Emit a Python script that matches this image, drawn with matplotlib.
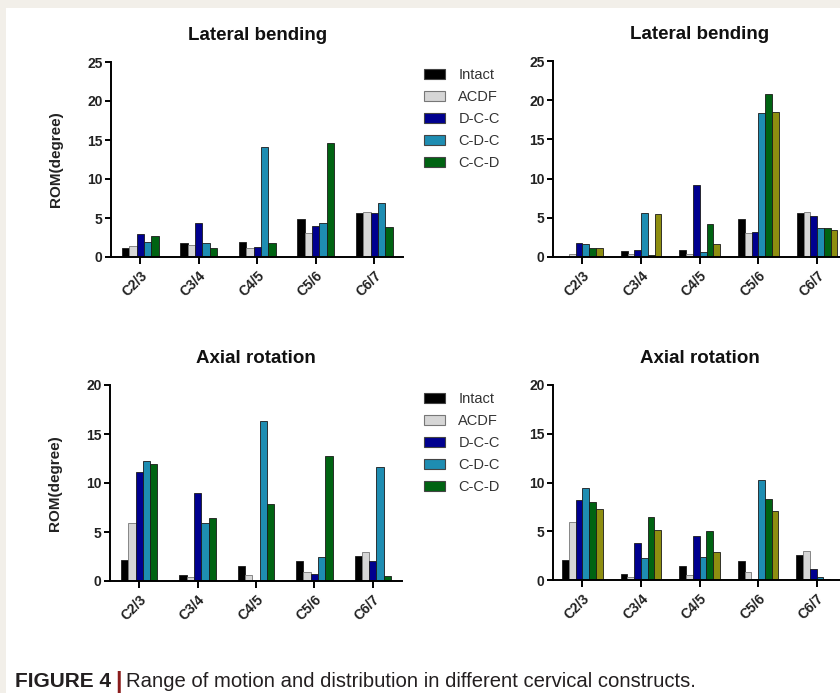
import numpy as np
import matplotlib
matplotlib.use('Agg')
import matplotlib.pyplot as plt
from matplotlib.patches import Patch, Rectangle

plt.rcParams['font.family'] = ['Liberation Sans', 'DejaVu Sans']

# data
levels = ['C2/3', 'C3/4', 'C4/5', 'C5/6', 'C6/7']
names = ['Intact', 'ACDF', 'D-C-C', 'C-D-C', 'C-C-D', 'olive (legend cropped)']
colors = ['#000000', '#d6d6d6', '#00008f', '#1e8db2', '#006312', '#8e8e10']

# lateral bending, left panel (5 constructs)
lat_intact = [1.1, 1.8, 1.9, 4.9, 5.6]
lat_acdf = [1.4, 1.5, 1.2, 3.1, 5.8]
lat_dcc = [3.0, 4.35, 1.25, 4.0, 5.6]
lat_cdc = [1.9, 1.75, 14.15, 4.3, 6.9]
lat_ccd = [2.7, 1.2, 1.8, 14.65, 3.9]

# lateral bending, right panel (6 constructs)
lat2_intact = [0.05, 0.8, 0.9, 4.9, 5.6]
lat2_acdf = [0.35, 0.4, 0.35, 3.0, 5.8]
lat2_dcc = [1.8, 0.85, 9.2, 3.2, 5.2]
lat2_cdc = [1.6, 5.6, 0.7, 18.4, 3.7]
lat2_ccd = [1.1, 0.25, 4.25, 20.8, 3.7]
lat2_olive = [1.2, 5.45, 1.6, 18.55, 3.4]

# axial rotation, left panel
ax_intact = [2.15, 0.65, 1.5, 2.0, 2.55]
ax_acdf = [5.95, 0.4, 0.6, 0.9, 2.95]
ax_dcc = [11.15, 9.0, 0.15, 0.7, 2.0]
ax_cdc = [12.2, 5.95, 16.3, 2.5, 11.6]
ax_ccd = [11.95, 6.4, 7.85, 12.75, 0.5]

# axial rotation, right panel
ax2_intact = [2.1, 0.6, 1.45, 1.95, 2.55]
ax2_acdf = [5.95, 0.3, 0.55, 0.85, 2.95]
ax2_dcc = [8.25, 3.8, 4.55, 0.15, 1.15]
ax2_cdc = [9.4, 2.3, 2.4, 10.3, 0.3]
ax2_ccd = [7.95, 6.45, 5.0, 8.35, 0.1]
ax2_olive = [7.3, 5.1, 2.85, 7.1, 0.05]

W, H = 840, 693


def box(left, top, right, bottom):
    # pixel box -> figure fraction
    return [left / W, 1 - bottom / H, (right - left) / W, (bottom - top) / H]


def bar_panel(ax, series, ymax, title, width, ylabel=True):
    x = np.arange(len(levels))
    n = len(series)
    for i, vals in enumerate(series):
        ax.bar(x + (i - (n - 1) / 2) * width, vals, width,
               color=colors[i], edgecolor='#777777' if i == 1 else '#1a1a1a',
               linewidth=0.6)
    ax.set_xlim(-0.5, 4.5)
    ax.set_ylim(0, ymax)
    ax.set_yticks(np.arange(0, ymax + 1, 5))
    ax.set_xticks(x)
    ax.set_xticklabels(levels, rotation=45, ha='right', rotation_mode='anchor')
    for s in ['top', 'right']:
        ax.spines[s].set_visible(False)
    for s in ['left', 'bottom']:
        ax.spines[s].set_linewidth(1.4)
    ax.tick_params(axis='both', width=1.4, length=4, labelsize=10, pad=2)
    ax.tick_params(axis='x', length=5, pad=3)
    for lab in ax.get_xticklabels() + ax.get_yticklabels():
        lab.set_fontweight('bold')
        lab.set_color('#222222')
    ax.set_title(title, fontsize=13.5, fontweight='bold', pad=16, color='#111111')
    if ylabel:
        ax.set_ylabel('ROM(degree)', fontsize=11, fontweight='bold', color='#222222')
        ax.yaxis.set_label_coords(-0.165, 0.5)


fig = plt.figure(figsize=(W / 100, H / 100), dpi=100)
fig.patch.set_facecolor('#f2efe9')
fig.add_artist(Rectangle((6 / W, 0), 1, 1 - 8 / H, transform=fig.transFigure,
                         facecolor='white', edgecolor='none', zorder=-10))

ax1 = fig.add_axes(box(111, 62, 403.5, 257))
bar_panel(ax1, [lat_intact, lat_acdf, lat_dcc, lat_cdc, lat_ccd], 25,
          'Lateral bending', 0.125)
ax2 = fig.add_axes(box(553, 61, 846.5, 257))
bar_panel(ax2, [lat2_intact, lat2_acdf, lat2_dcc, lat2_cdc, lat2_ccd, lat2_olive],
          25, 'Lateral bending', 0.115, ylabel=False)
ax3 = fig.add_axes(box(110, 385, 402, 581))
bar_panel(ax3, [ax_intact, ax_acdf, ax_dcc, ax_cdc, ax_ccd], 20,
          'Axial rotation', 0.125)
ax4 = fig.add_axes(box(553, 385, 846, 580))
bar_panel(ax4, [ax2_intact, ax2_acdf, ax2_dcc, ax2_cdc, ax2_ccd, ax2_olive],
          20, 'Axial rotation', 0.115, ylabel=False)

handles = [Patch(facecolor=colors[i], edgecolor='#777777' if i == 1 else '#444444',
                 linewidth=0.8, label=names[i]) for i in range(5)]
for top in [68, 392]:
    fig.legend(handles=handles, loc='upper left',
               bbox_to_anchor=(424 / W, 1 - top / H), frameon=False,
               fontsize=10.5, borderpad=0, borderaxespad=0,
               handlelength=1.45, handleheight=0.65, handletextpad=0.9,
               labelspacing=0.55, labelcolor='#333333')

# caption
renderer = fig.canvas.get_renderer()
cap_y = 1 - 687 / H
t1 = fig.text(15 / W, cap_y, 'FIGURE 4', fontsize=15, fontweight='bold',
              color='#231f20', va='baseline')
bb = t1.get_window_extent(renderer)
t2 = fig.text((bb.x1 + 4) / W, cap_y - 2 / H, '|', fontsize=17, fontweight='bold',
              color='#8a1c1c', va='baseline')
bb = t2.get_window_extent(renderer)
fig.text((bb.x1 + 4) / W, cap_y,
         'Range of motion and distribution in different cervical constructs.',
         fontsize=14.6, color='#231f20', va='baseline')

fig.savefig('out.png', dpi=100, facecolor=fig.get_facecolor())
